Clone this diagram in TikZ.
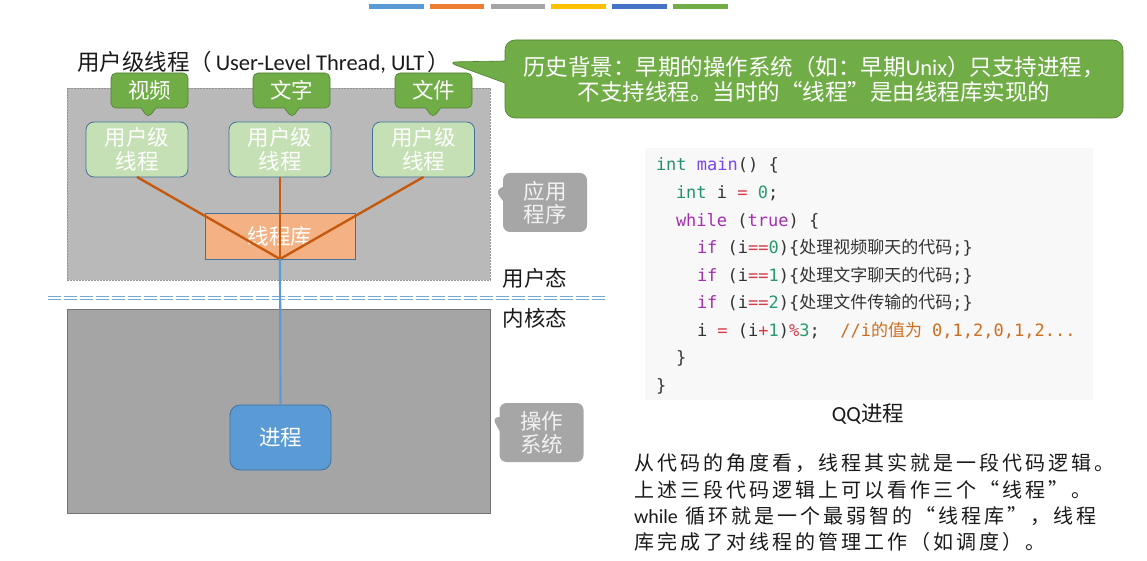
\documentclass[tikz,border=0pt]{standalone}
\usepackage{fontspec}
\setmainfont{Carlito}
\setmonofont{DejaVu Sans Mono}
\newfontfamily\cjk{Noto Sans CJK SC}
\newfontfamily\cjkwide{Noto Sans CJK SC}[LetterSpace=15]
\usepackage{tikz}
\usetikzlibrary{shapes.callouts, positioning}
\definecolor{my_green}{HTML}{70AD47}
\definecolor{my_darkgreen}{HTML}{507E32}
\definecolor{my_lightgreen}{HTML}{C5E0B4}
\definecolor{my_edgeblue}{HTML}{41719C}
\definecolor{my_blue}{HTML}{5B9BD5}
\definecolor{my_orange}{HTML}{F4B183}
\definecolor{my_darkorange}{HTML}{C55A11}
\definecolor{my_usergray}{HTML}{B9B9B9}
\definecolor{my_kernelgray}{HTML}{A5A5A5}
\definecolor{my_notegray}{HTML}{A6A6A6}
\definecolor{my_codebg}{HTML}{F8F8F8}
\definecolor{my_text}{HTML}{1A1A1A}
\definecolor{bar_a}{HTML}{5B9BD5}
\definecolor{bar_b}{HTML}{ED7D31}
\definecolor{bar_c}{HTML}{A5A5A5}
\definecolor{bar_d}{HTML}{FFC000}
\definecolor{bar_e}{HTML}{4472C4}
\definecolor{bar_f}{HTML}{70AD47}
\definecolor{code_plain}{HTML}{333333}
\definecolor{code_type}{HTML}{22916A}
\definecolor{code_func}{HTML}{7A45F0}
\definecolor{code_kw}{HTML}{A12FAE}
\definecolor{code_op}{HTML}{D73A49}
\definecolor{code_num}{HTML}{2A9A6E}
\definecolor{code_cmt}{HTML}{CC6E1E}
% code colouring
\newcommand\ctype[1]{\textcolor{code_type}{#1}}
\newcommand\cfunc[1]{\textcolor{code_func}{#1}}
\newcommand\ckw[1]{\textcolor{code_kw}{#1}}
\newcommand\cop[1]{\textcolor{code_op}{#1}}
\newcommand\cnum[1]{\textcolor{code_num}{#1}}
\newcommand\ccmt[1]{\textcolor{code_cmt}{#1}}

\begin{document}
\begin{tikzpicture}[
    x=1pt, y=-1pt,   % 1 unit = 1 pixel of the slide
    every node/.style={inner sep=0pt, outer sep=0pt},
    cjklabel/.style={font={\cjk\fontsize{21.5}{24}\selectfont}},
    spacebox/.style={minimum width=423pt},
    tagbubble/.style={rectangle callout, cjklabel, fill=my_green, draw=my_darkgreen,
        line width=0.6pt, rounded corners=5pt, text=white,
        minimum width=77pt, minimum height=35pt, callout pointer width=15pt},
    ultbox/.style={cjklabel, align=center, fill=my_lightgreen, draw=my_edgeblue,
        line width=0.8pt, rounded corners=8pt, text=white,
        minimum width=102pt, minimum height=55pt},
    sidenote/.style={rectangle callout, align=center, fill=my_notegray,
        rounded corners=7pt, text=white!95!black,
        font={\cjk\fontsize{21.5}{23}\selectfont},
        minimum width=84pt, minimum height=59pt, callout pointer width=14pt},
    libline/.style={my_darkorange, line width=2.4pt},
    codeline/.style={anchor=base west, text=code_plain,
        font={\ttfamily\fontsize{17}{20}\selectfont}},
    paraline/.style={anchor=west, text=my_text,
        font={\cjkwide\fontsize{20}{26}\selectfont}},
]
\useasboundingbox (0,0) rectangle (1147,561);

% ── Colour bars on top ───────────────────────────────────────────────────────
\foreach \c [count=\i from 0] in {bar_a,bar_b,bar_c,bar_d,bar_e,bar_f} {
    \fill[\c] ({369+60.8*\i},4) rectangle ++(54.5,5);
}

% ── User space and kernel space ──────────────────────────────────────────────
\node[spacebox, minimum height=192pt, fill=my_usergray, draw=gray!85,
      dash pattern=on 2pt off 1pt, line width=0.8pt]
    (userspace) at (278.5,184) {};
\node[spacebox, minimum height=204pt, fill=my_kernelgray, draw=gray!90!black,
      line width=0.8pt]
    (kernel) at (278.5,411) {};

\coordinate (sepL) at (48,298);
\coordinate (sepR) at (605,298);
\draw[my_blue!85, line width=1pt, double=white, double distance=1.6pt,
      dash pattern=on 12.5pt off 3.5pt] (sepL) -- (sepR);

\node[cjklabel, text=my_text] (usermode) at (535,278) {用户态};
\node[cjklabel, text=my_text] (kernelmode) at (535,318) {内核态};

% ── Title and history note ───────────────────────────────────────────────────
\node[anchor=west, text=my_text, font={\cjk\fontsize{22.5}{24}\selectfont}]
    (title) at (77,62)
    {用户级线程（\,\textrm{User-Level Thread, ULT}\,）};
\node[rectangle callout, fill=my_green, draw=my_darkgreen, line width=0.6pt,
      rounded corners=10pt, text=white, align=center,
      font={\cjk\fontsize{22.5}{25}\selectfont},
      minimum width=618pt, minimum height=78pt,
      callout absolute pointer={(447,62)}, callout pointer width=22pt]
    (history) at (814,79)
    {历史背景：早期的操作系统（如：早期\textrm{Unix}）只支持进程，\\
     不支持线程。当时的“线程”是由线程库实现的};

% ── Threads, library and process ─────────────────────────────────────────────
\node[tagbubble, callout absolute pointer={(148,118)}] (video) at (149.5,90.5) {视频};
\node[tagbubble, callout absolute pointer={(292,118)}] (chat)  at (291.5,90.5) {文字};
\node[tagbubble, callout absolute pointer={(433,118)}] (file)  at (433.5,90.5) {文件};

\node[ultbox] (ult1) at (137,149.5)   {用户级\\线程};
\node[ultbox] (ult2) at (280,149.5)   {用户级\\线程};
\node[ultbox] (ult3) at (423.5,149.5) {用户级\\线程};

\node[cjklabel, fill=my_orange, draw=my_edgeblue, line width=0.8pt, text=white,
      minimum width=150pt, minimum height=46pt] (lib) at (280,236) {线程库};

\draw[libline] (ult1.south) -- (lib.south);
\draw[libline] (ult2.south) -- (lib.south);
\draw[libline] (ult3.south) -- (lib.south);

\node[cjklabel, fill=my_blue, draw=my_edgeblue, line width=0.8pt, text=white,
      rounded corners=10pt, minimum width=101pt, minimum height=65pt]
    (proc) at (280.5,437.5) {进程};
\draw[my_blue, line width=2.2pt] (lib.south) -- (proc.north);

% ── Side notes ───────────────────────────────────────────────────────────────
\node[sidenote, callout absolute pointer={(495,190)}] (appnote) at (545,202.5) {应用\\程序};
\node[sidenote, callout absolute pointer={(492,417)}] (osnote) at (541.5,432.5) {操作\\系统};

% ── Code of the QQ process ───────────────────────────────────────────────────
\node[fill=my_codebg, minimum width=448pt, minimum height=252pt] (codebg) at (869,274) {};
\node[codeline] (code1) at (656,171)   {\ctype{int} \cfunc{main}() \{};
\node[codeline] (code2) at (676,198.5) {\ctype{int} i \cop{=} \cnum{0};};
\node[codeline] (code3) at (676,226)   {\ckw{while} (\ckw{true}) \{};
\node[codeline] (code4) at (697,253.5) {\ckw{if} (i\cop{==}\cnum{0})\{{\cjk 处理视频聊天的代码};\}};
\node[codeline] (code5) at (697,281)   {\ckw{if} (i\cop{==}\cnum{1})\{{\cjk 处理文字聊天的代码};\}};
\node[codeline] (code6) at (697,308.5) {\ckw{if} (i\cop{==}\cnum{2})\{{\cjk 处理文件传输的代码};\}};
\node[codeline] (code7) at (697,336)
    {i \cop{=} (i\cop{+}\cnum{1})\cop{\%}\cnum{3};\ \ \ccmt{//i{\cjk 的值为} 0,1,2,0,1,2...}};
\node[codeline] (code8) at (676,363.5) {\}};
\node[codeline] (code9) at (656,391)   {\}};
\node[cjklabel, text=my_text] (qqlabel) at (868,414) {\textrm{QQ}进程};

% ── Explanation ──────────────────────────────────────────────────────────────
\node[paraline] (para1) at (634,463) {从代码的角度看，线程其实就是一段代码逻辑。};
\node[paraline] (para2) at (634,490) {上述三段代码逻辑上可以看作三个“线程”。};
\node[paraline] (para3) at (634,516) {\textrm{while} 循环就是一个最弱智的“线程库”，线程};
\node[paraline] (para4) at (634,542) {库完成了对线程的管理工作（如调度）。};

\end{tikzpicture}
\end{document}
